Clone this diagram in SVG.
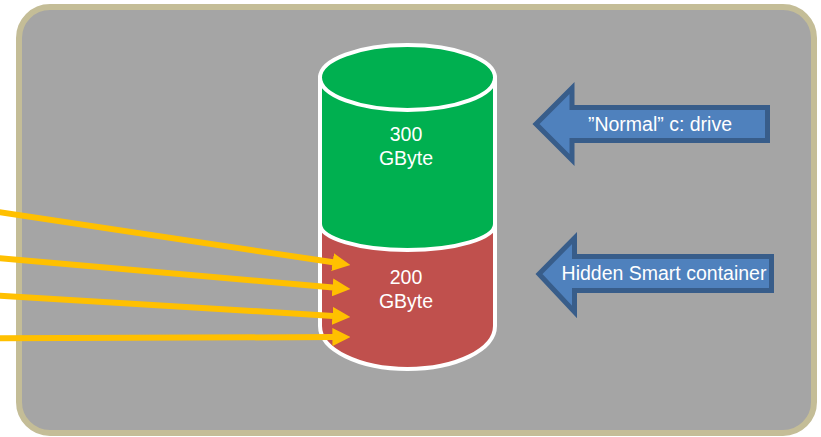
<svg xmlns="http://www.w3.org/2000/svg" width="821" height="437" viewBox="0 0 821 437">
<style>
.lbl{font-family:"Liberation Sans",Arial,sans-serif;font-size:19.5px;fill:#FFFFFF;text-anchor:middle}
.cyl{stroke:#FFFFFF;stroke-width:4}
.blue{fill:#4F81BD;stroke:#385D8A;stroke-width:5;stroke-linejoin:miter}
.feed{fill:none;stroke:#FFC000;stroke-width:6;marker-end:url(#head)}
</style>
<defs>
<marker id="head" viewBox="0 0 3 3" refX="0.1" refY="1.5" markerWidth="3" markerHeight="3" markerUnits="strokeWidth" orient="auto">
<path d="M0,0 L3,1.5 L0,3 Z" fill="#FFC000"/>
</marker>
</defs>
<rect x="0" y="0" width="821" height="437" fill="#FFFFFF"/>
<g id="background">
<rect x="19" y="7" width="795" height="426" rx="31" ry="31" fill="#A5A5A5" stroke="#C4BD97" stroke-width="6"/>
</g>
<g id="hidden-partition">
<path class="cyl" d="M320,224 L320,326 A87.5,43 0 0 0 495,326 L495,224 Z" fill="#C0504D"/>
<text class="lbl" x="406" y="284">200</text>
<text class="lbl" x="406" y="308">GByte</text>
</g>
<g id="c-drive-partition">
<path class="cyl" d="M320,77.5 L320,224 A87.5,26 0 0 0 495,224 L495,77.5 Z" fill="#00B050"/>
<ellipse class="cyl" cx="407.5" cy="77.5" rx="87.5" ry="32.5" fill="#00B050"/>
<text class="lbl" x="406" y="141">300</text>
<text class="lbl" x="406" y="165">GByte</text>
</g>
<g id="label-normal">
<path class="blue" d="M536,124 L572,88 L572,107.5 L767.5,107.5 L767.5,140.5 L572,140.5 L572,160 Z"/>
<text class="lbl" x="660" y="131">”Normal” c: drive</text>
</g>
<g id="label-hidden">
<path class="blue" d="M539,274 L574.5,238 L574.5,256.5 L771.5,256.5 L771.5,290.5 L574.5,290.5 L574.5,312 Z"/>
<text class="lbl" x="664" y="280">Hidden Smart container</text>
</g>
<g id="connectors">
<line class="feed" x1="-4" y1="211.7" x2="333.2" y2="262.3"/>
<line class="feed" x1="-4" y1="257.9" x2="333.1" y2="287.4"/>
<line class="feed" x1="-4" y1="295.5" x2="333" y2="315.9"/>
<line class="feed" x1="-4" y1="338.3" x2="333" y2="337.1"/>
</g>
</svg>
